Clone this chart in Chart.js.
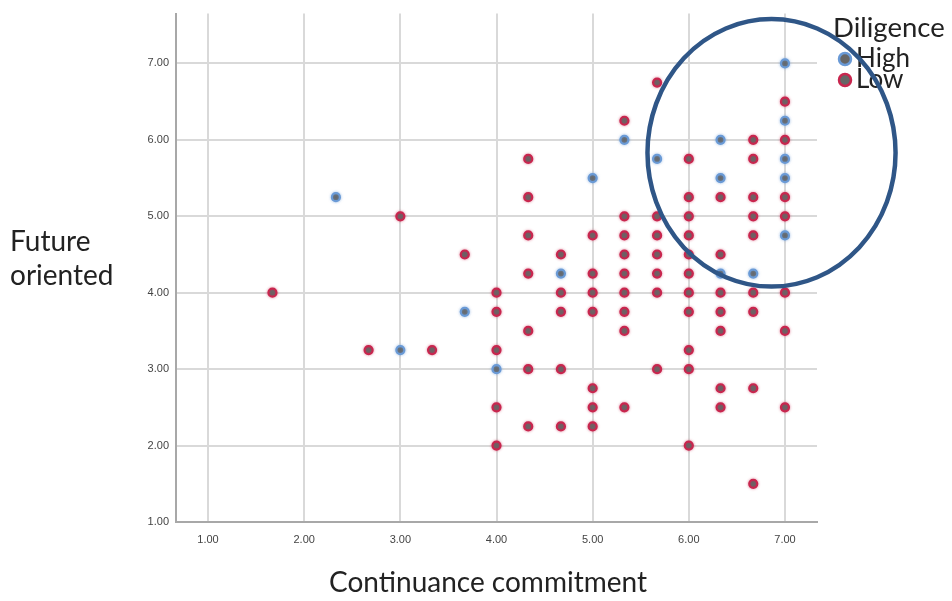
<!DOCTYPE html>
<html>
<head>
<meta charset="utf-8">
<script src="https://cdn.jsdelivr.net/npm/chart.js@4.4.1/dist/chart.umd.min.js"></script>
<style>
html,body{margin:0;padding:0;background:#fff;}
#wrap{width:952px;height:601px;position:relative;}
</style>
</head>
<body>
<div id="wrap"><canvas id="c"></canvas></div>
<script>
// Diligence = High (blue outline)
const highX = [2.33, 3.00, 3.67, 4.00, 4.67, 5.00, 5.33, 5.67, 6.33, 6.33, 6.33, 6.67, 7.00, 7.00, 7.00, 7.00, 7.00];
const highY = [5.25, 3.25, 3.75, 3.00, 4.25, 5.50, 6.00, 5.75, 6.00, 5.50, 4.25, 4.25, 7.00, 6.25, 5.75, 5.50, 4.75];

// Diligence = Low (red outline)
const lowX = [
  1.67,
  2.67,
  3.00,
  3.33,
  3.67,
  4.00, 4.00, 4.00, 4.00, 4.00,
  4.33, 4.33, 4.33, 4.33, 4.33, 4.33, 4.33,
  4.67, 4.67, 4.67, 4.67, 4.67,
  5.00, 5.00, 5.00, 5.00, 5.00, 5.00, 5.00,
  5.33, 5.33, 5.33, 5.33, 5.33, 5.33, 5.33, 5.33, 5.33,
  5.67, 5.67, 5.67, 5.67, 5.67, 5.67, 5.67,
  6.00, 6.00, 6.00, 6.00, 6.00, 6.00, 6.00, 6.00, 6.00, 6.00, 6.00,
  6.33, 6.33, 6.33, 6.33, 6.33, 6.33, 6.33,
  6.67, 6.67, 6.67, 6.67, 6.67, 6.67, 6.67, 6.67, 6.67,
  7.00, 7.00, 7.00, 7.00, 7.00, 7.00, 7.00
];
const lowY = [
  4.00,
  3.25,
  5.00,
  3.25,
  4.50,
  4.00, 3.75, 3.25, 2.50, 2.00,
  5.75, 5.25, 4.75, 4.25, 3.50, 3.00, 2.25,
  4.50, 4.00, 3.75, 3.00, 2.25,
  4.75, 4.25, 4.00, 3.75, 2.75, 2.50, 2.25,
  6.25, 5.00, 4.75, 4.50, 4.25, 4.00, 3.75, 3.50, 2.50,
  6.75, 5.00, 4.75, 4.50, 4.25, 4.00, 3.00,
  5.75, 5.25, 5.00, 4.75, 4.50, 4.25, 4.00, 3.75, 3.25, 3.00, 2.00,
  5.25, 4.50, 4.00, 3.75, 3.50, 2.75, 2.50,
  6.00, 5.75, 5.25, 5.00, 4.75, 4.00, 3.75, 2.75, 1.50,
  6.50, 6.00, 5.25, 5.00, 4.00, 3.50, 2.50
];

const xTicks = [1, 2, 3, 4, 5, 6, 7];
const yTicks = [1, 2, 3, 4, 5, 6, 7];
const seriesNames = ['High', 'Low'];
const legendTitle = 'Diligence';
const xTitle = 'Continuance commitment';
const yTitleLines = ['Future', 'oriented'];
// highlighted region (data units): centre x, centre y, radius x, radius y
const highlight = {cx: 6.86, cy: 5.83, rx: 1.29, ry: 1.75};

const FILL = '#666666';
const RED = '#c8264e';
const BLUE = '#6a9ad6';
const TEXT = '#222222';

const toPts = (xs, ys) => xs.map((x, i) => ({x: x, y: ys[i]}));

const glowPlugin = {
  id: 'glow',
  beforeDatasetDraw(chart, args) {
    const ctx = chart.ctx;
    ctx.save();
    ctx.shadowColor = args.index === 0 ? 'rgba(106,154,214,0.55)' : 'rgba(200,38,78,0.45)';
    ctx.shadowBlur = 3;
  },
  afterDatasetDraw(chart) {
    chart.ctx.restore();
  }
};

const decorPlugin = {
  id: 'decor',
  afterDraw(chart) {
    const ctx = chart.ctx;
    ctx.save();
    ctx.fillStyle = TEXT;
    ctx.textBaseline = 'middle';
    ctx.textAlign = 'left';
    ctx.font = '28px Lato';
    // y axis title (horizontal, two lines)
    ctx.fillText(yTitleLines[0], 10, 242);
    ctx.fillText(yTitleLines[1], 10, 276);
    // x axis title
    ctx.textAlign = 'center';
    ctx.fillText(xTitle, 488, 583);
    // legend
    ctx.textAlign = 'left';
    ctx.font = '27.5px Lato';
    ctx.fillText(legendTitle, 833, 28);
    ctx.font = '26px Lato';
    const colors = [BLUE, RED];
    seriesNames.forEach((n, i) => {
      const y = 59 + i * 21;
      ctx.beginPath();
      ctx.arc(845, y, 6, 0, Math.PI * 2);
      ctx.fillStyle = FILL;
      ctx.fill();
      ctx.lineWidth = 2.5;
      ctx.strokeStyle = colors[i];
      ctx.stroke();
      ctx.fillStyle = TEXT;
      ctx.fillText(n, 856, y);
    });
    // highlight ellipse
    const xs = chart.scales.x, ys = chart.scales.y;
    const cx = xs.getPixelForValue(highlight.cx);
    const cy = ys.getPixelForValue(highlight.cy);
    const rx = xs.getPixelForValue(highlight.cx + highlight.rx) - cx;
    const ry = cy - ys.getPixelForValue(highlight.cy + highlight.ry);
    ctx.beginPath();
    ctx.ellipse(cx, cy, rx, ry, 0, 0, Math.PI * 2);
    ctx.lineWidth = 4.5;
    ctx.strokeStyle = '#2f5687';
    ctx.stroke();
    ctx.restore();
  }
};

new Chart(document.getElementById('c'), {
  type: 'scatter',
  data: {
    datasets: [
      {label: seriesNames[0], data: toPts(highX, highY), backgroundColor: FILL, borderColor: BLUE,
       pointRadius: 4, pointBorderWidth: 2.2, pointHoverRadius: 4},
      {label: seriesNames[1], data: toPts(lowX, lowY), backgroundColor: FILL, borderColor: RED,
       pointRadius: 4, pointBorderWidth: 2.2, pointHoverRadius: 4}
    ]
  },
  options: {
    responsive: true,
    maintainAspectRatio: false,
    animation: false,
    events: [],
    layout: {padding: {top: 12, right: 135, left: 0, bottom: 0}},
    plugins: {legend: {display: false}, tooltip: {enabled: false}},
    scales: {
      x: {
        type: 'linear', min: 0.667, max: 7.333,
        afterBuildTicks: s => { s.ticks = xTicks.map(v => ({value: v})); },
        afterFit: s => { s.height = 79; },
        ticks: {callback: v => Number(v).toFixed(2), color: '#444', padding: 11,
                font: {family: 'Liberation Sans', size: 11}, maxRotation: 0},
        grid: {color: '#d9d9d9', lineWidth: 2, drawTicks: false},
        border: {color: '#a8a8a8', width: 2}
      },
      y: {
        type: 'linear', min: 1, max: 7.652,
        afterBuildTicks: s => { s.ticks = yTicks.map(v => ({value: v})); },
        afterFit: s => { s.width = 176; },
        ticks: {callback: v => Number(v).toFixed(2), color: '#444', padding: 7,
                font: {family: 'Liberation Sans', size: 11}},
        grid: {color: '#d9d9d9', lineWidth: 2, drawTicks: false},
        border: {color: '#a8a8a8', width: 2}
      }
    }
  },
  plugins: [glowPlugin, decorPlugin]
});
</script>
</body>
</html>
